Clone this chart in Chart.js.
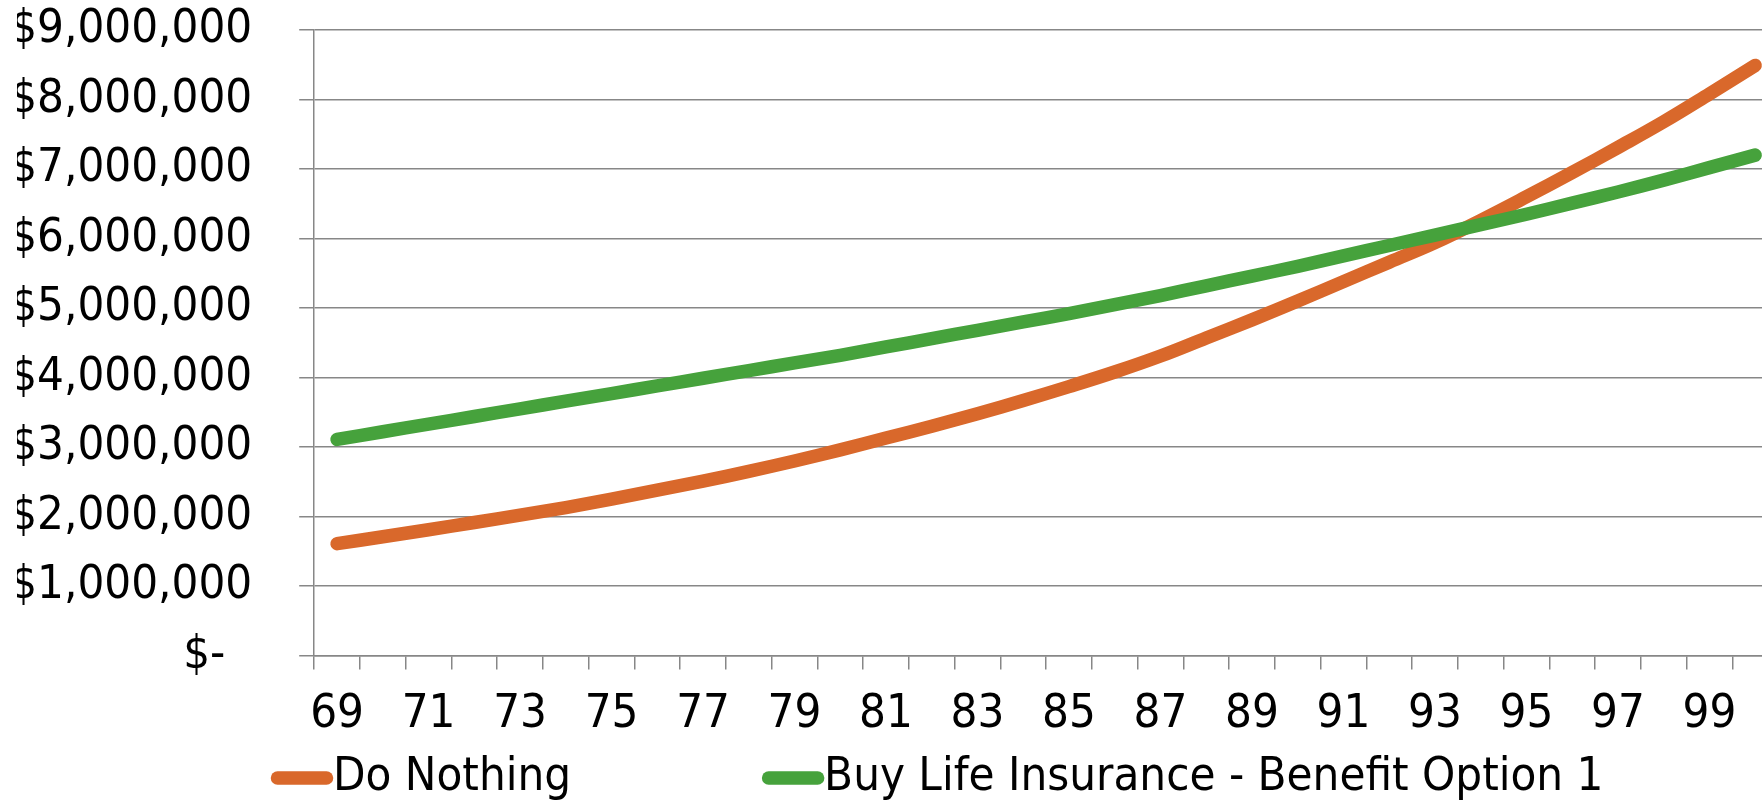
<!DOCTYPE html>
<html>
<head>
<meta charset="utf-8">
<title>Do Nothing vs Buy Life Insurance</title>
<script src="https://cdn.jsdelivr.net/npm/chart.js@4/dist/chart.umd.min.js"></script>
<style>
  html, body { margin: 0; padding: 0; background: #fff; }
  /* le graphique d'origine est coupé à droite : on garde la même coupe */
  #wrap { width: 1762px; height: 804px; overflow: hidden; }
  canvas { display: block; }
</style>
</head>
<body>
<div id="wrap"><canvas id="chart" width="1778" height="804"></canvas></div>
<script>
/* données */
const ages = ["69", "70", "71", "72", "73", "74", "75", "76", "77", "78", "79",
  "80", "81", "82", "83", "84", "85", "86", "87", "88", "89", "90",
  "91", "92", "93", "94", "95", "96", "97", "98", "99", "100"];

const doNothing = [1610000, 1710000, 1810000, 1915000, 2020000, 2130000, 2250000, 2380000,
  2510000, 2650000, 2800000, 2960000, 3130000, 3300000, 3480000, 3670000,
  3870000, 4080000, 4310000, 4570000, 4830000, 5100000, 5380000, 5660000,
  5940000, 6260000, 6600000, 6950000, 7310000, 7680000, 8080000, 8490000];

const buyInsurance = [3110000, 3220000, 3330000, 3440000, 3550000, 3660000, 3770000, 3880000,
  3990000, 4100000, 4210000, 4320000, 4440000, 4560000, 4680000, 4800000,
  4920000, 5050000, 5180000, 5320000, 5460000, 5600000, 5750000, 5900000,
  6050000, 6200000, 6350000, 6510000, 6670000, 6840000, 7020000, 7200000];

const seriesNames = ["Do Nothing", "Buy Life Insurance - Benefit Option 1"];

const FONT = "'DejaVu Sans Condensed', 'Liberation Sans', sans-serif";
const FONT_SIZE = 47;
const GRID = "#878787";

/* légende dessinée à la main (Excel colle le texte au trait) */
const bottomLegend = {
  id: "bottomLegend",
  afterDraw(chart) {
    const ctx = chart.ctx;
    let x = 271;
    const y = 778;
    ctx.save();
    ctx.font = FONT_SIZE + "px " + FONT;
    ctx.textBaseline = "middle";
    ctx.textAlign = "left";
    ctx.lineCap = "round";
    ctx.lineWidth = 13.5;
    chart.data.datasets.forEach(ds => {
      ctx.strokeStyle = ds.borderColor;
      ctx.beginPath();
      ctx.moveTo(x + 6.5, y);
      ctx.lineTo(x + 62 - 6.5, y);
      ctx.stroke();
      x += 62;
      ctx.fillStyle = "#000";
      ctx.fillText(ds.label, x, y);
      x += ctx.measureText(ds.label).width + 191;
    });
    ctx.restore();
  }
};

new Chart(document.getElementById("chart"), {
  type: "line",
  data: {
    labels: ages,
    datasets: [
      {
        label: seriesNames[0],
        data: doNothing,
        borderColor: "#D9682B",
        order: 1
      },
      {
        label: seriesNames[1],
        data: buyInsurance,
        borderColor: "#46A23C",
        order: 0
      }
    ]
  },
  options: {
    responsive: false,
    devicePixelRatio: 1,
    animation: false,
    layout: { padding: { left: 17, top: 30, right: 0, bottom: 54 } },
    elements: {
      point: { radius: 0 },
      line: {
        borderWidth: 13.5,
        borderCapStyle: "round",
        borderJoinStyle: "round",
        tension: 0.4,
        fill: false
      }
    },
    plugins: {
      legend: { display: false },
      tooltip: { enabled: false }
    },
    scales: {
      x: {
        offset: true,
        grid: {
          offset: true,
          drawOnChartArea: false,
          tickLength: 14,
          color: GRID,
          lineWidth: 1.5
        },
        border: { color: GRID, width: 1.5 },
        ticks: {
          autoSkip: false,
          maxRotation: 0,
          padding: 17,
          color: "#000",
          font: { family: FONT, size: FONT_SIZE },
          callback: (v, i) => (i % 2 === 0 ? ages[i] : "")
        },
        afterFit: scale => { scale.height = 94.4; }
      },
      y: {
        min: 0,
        max: 9000000,
        grid: { color: GRID, lineWidth: 1.5, tickLength: 15 },
        border: { color: GRID, width: 1.5 },
        ticks: {
          stepSize: 1000000,
          padding: 47,
          color: "#000",
          font: { family: FONT, size: FONT_SIZE },
          callback: v => (v === 0 ? "$-  " : "$" + v.toLocaleString("en-US"))
        },
        // largeur fixe de l'axe et pas de marge en plus en haut / en bas
        afterFit: scale => {
          scale.width = 297.2;
          scale.paddingTop = 0;
          scale.paddingBottom = 0;
        }
      }
    }
  },
  plugins: [bottomLegend]
});
</script>
</body>
</html>
